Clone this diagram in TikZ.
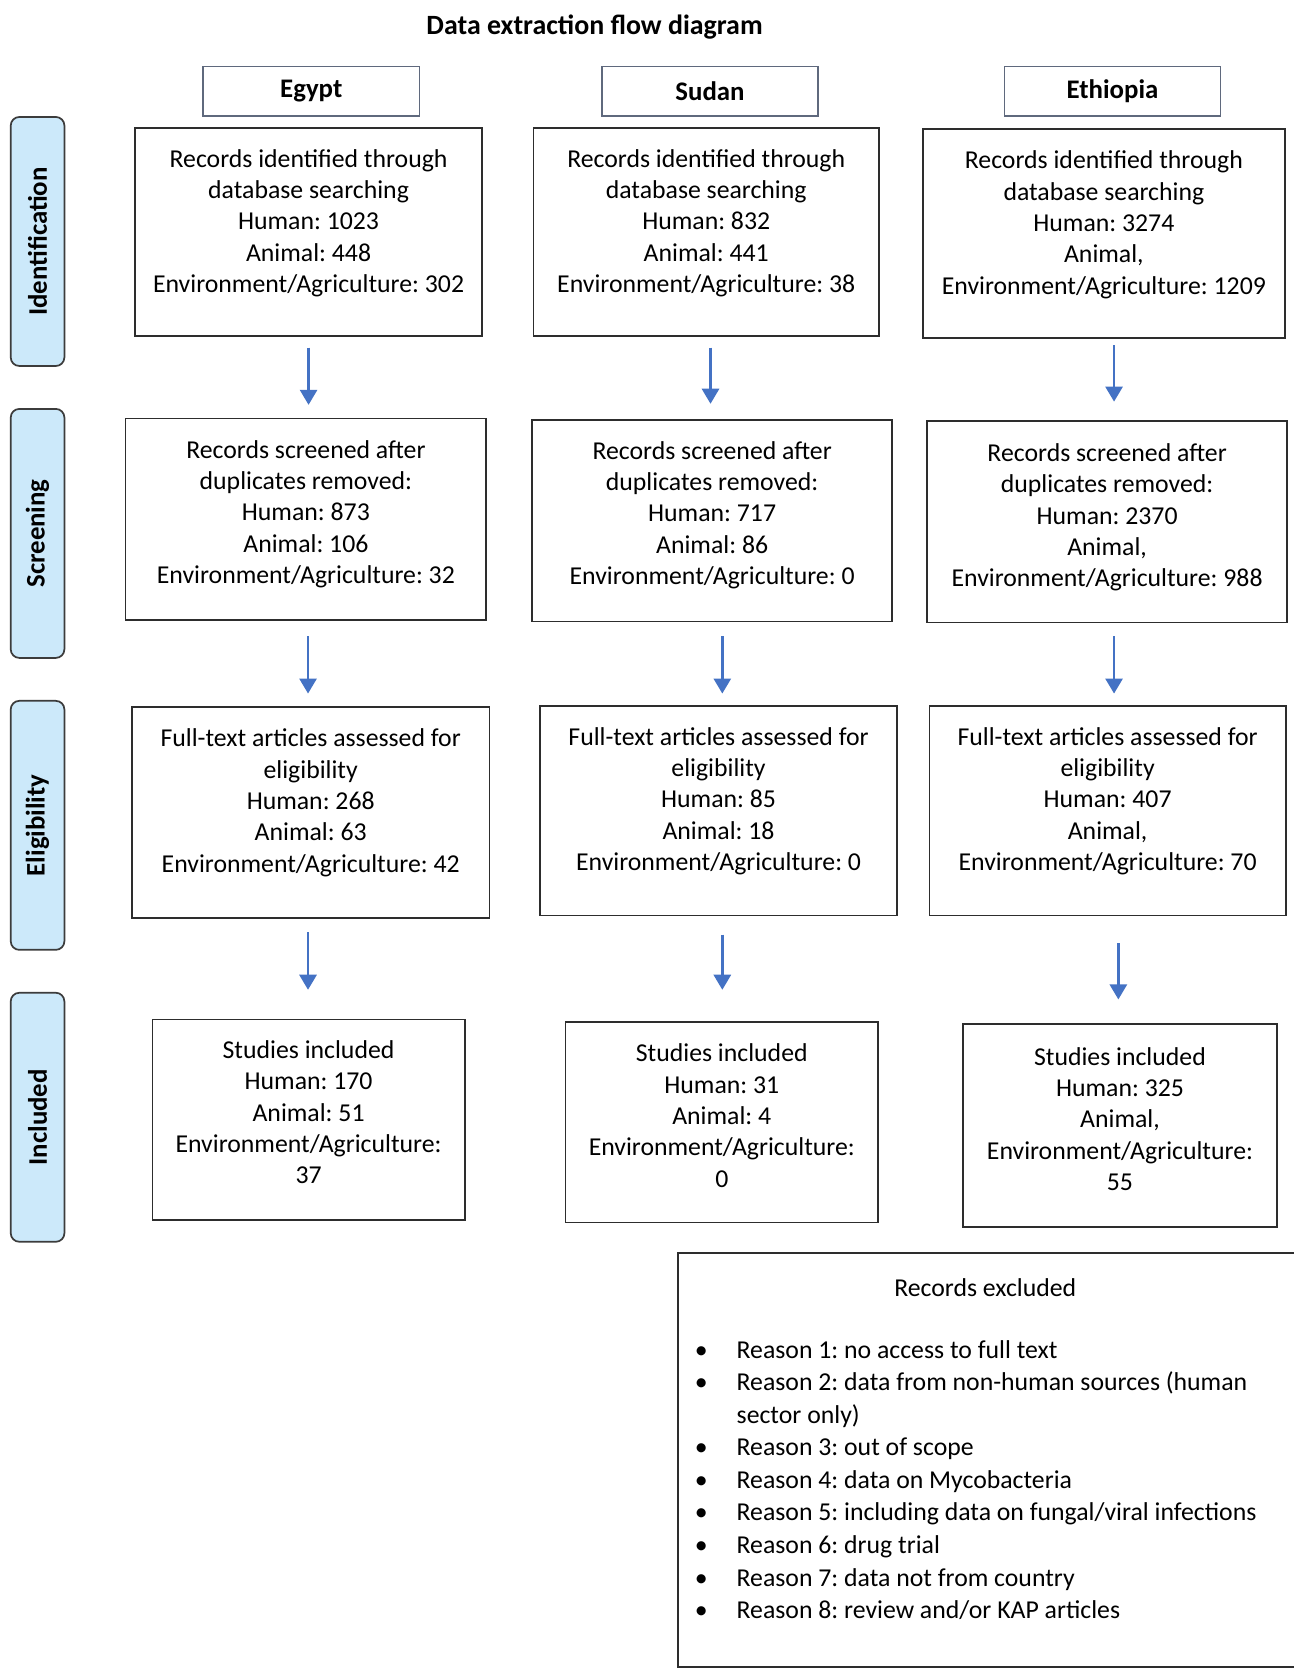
\documentclass[tikz,border=0pt]{standalone}
\usepackage{fontspec}
\setmainfont{Carlito}
\frenchspacing
\usetikzlibrary{arrows.meta,calc}
\definecolor{arrowblue}{RGB}{68,114,196}
\definecolor{sidefill}{RGB}{204,233,250}
\definecolor{sideline}{RGB}{60,60,60}
\definecolor{headline}{RGB}{95,105,125}
\definecolor{boxline}{RGB}{45,45,45}
% style, name, x1, y1, x2, y2
\newcommand\mkbox[6]{%
  \node[#1, minimum width={(#5-#3)*0.5pt}, minimum height={(#6-#4)*0.5pt}] (#2) at ({(#3+#5)/2},{(#4+#6)/2}) {};}
\begin{document}
\begin{tikzpicture}[x=0.5pt,y=-0.5pt,
  box/.style={draw=boxline, line width=0.8pt, inner sep=0pt},
  headbox/.style={draw=headline, line width=0.7pt, inner sep=0pt},
  sidebox/.style={draw=sideline, fill=sidefill, line width=0.8pt, rounded corners=4pt, inner sep=0pt},
  txt/.style={align=center, font=\fontsize{12}{14.6}\selectfont, inner sep=0pt},
  boldtxt/.style={font=\fontsize{12.5}{15}\selectfont\bfseries, inner sep=0pt},
  sidetxt/.style={font=\fontsize{12.5}{15}\selectfont\bfseries, inner sep=0pt, rotate=90},
  arr/.style={draw=arrowblue, line width=1.1pt, -{Triangle[width=8pt,length=7pt]}}]
\fill[white] (0,0) rectangle (1210,1556);
\useasboundingbox (0,0) rectangle (1210,1556);

% title
\node[boldtxt, font=\fontsize{13}{15}\selectfont\bfseries] (title) at (554,25) {Data extraction flow diagram};

% headers
\mkbox{headbox}{hE}{189}{62}{391}{108}
\mkbox{headbox}{hS}{561}{62}{762}{108}
\mkbox{headbox}{hT}{936}{62}{1137}{108}
\node[boldtxt] (hEt) at (hE.center) {Egypt};
\node[boldtxt] (hSt) at (hS.center) {Sudan};
\node[boldtxt] (hTt) at (hT.center) {Ethiopia};

% side labels
\mkbox{sidebox}{l1}{10}{109}{60}{341}
\mkbox{sidebox}{l2}{10}{381}{60}{613}
\mkbox{sidebox}{l3}{10}{653}{60}{885}
\mkbox{sidebox}{l4}{10}{925}{60}{1157}
\node[sidetxt] (l1t) at (l1.center) {Identification};
\node[sidetxt] (l2t) at (l2.center) {Screening};
\node[sidetxt] (l3t) at (l3.center) {Eligibility};
\node[sidetxt] (l4t) at (l4.center) {Included};

% row 1
\mkbox{box}{e1}{126}{119}{449}{313}
\mkbox{box}{s1}{497}{119}{819}{313}
\mkbox{box}{t1}{860}{120}{1197}{315}
\node[txt] (e1t) at ($(e1.center)+(0,-8)$) {Records identified through\\database searching\\Human: 1023\\Animal: 448\\Environment/Agriculture: 302};
\node[txt] (s1t) at ($(s1.center)+(0,-8)$) {Records identified through\\database searching\\Human: 832\\Animal: 441\\Environment/Agriculture: 38};
\node[txt] (t1t) at ($(t1.center)+(0,-8)$) {Records identified through\\database searching\\Human: 3274\\Animal,\\Environment/Agriculture: 1209};

% row 2
\mkbox{box}{e2}{117}{390}{453}{578}
\mkbox{box}{s2}{496}{391}{831}{579}
\mkbox{box}{t2}{864}{392}{1199}{580}
\node[txt] (e2t) at ($(e2.center)+(0,-5)$) {Records screened after\\duplicates removed:\\Human: 873\\Animal: 106\\Environment/Agriculture: 32};
\node[txt] (s2t) at ($(s2.center)+(0,-5)$) {Records screened after\\duplicates removed:\\Human: 717\\Animal: 86\\Environment/Agriculture: 0};
\node[txt] (t2t) at ($(t2.center)+(0,-4)$) {Records screened after\\duplicates removed:\\Human: 2370\\Animal,\\Environment/Agriculture: 988};

% row 3
\mkbox{box}{e3}{123}{659}{456}{855}
\mkbox{box}{s3}{503}{658}{836}{853}
\mkbox{box}{t3}{866}{658}{1198}{853}
\node[txt] (e3t) at ($(e3.center)+(0,-9)$) {Full-text articles assessed for\\eligibility\\Human: 268\\Animal: 63\\Environment/Agriculture: 42};
\node[txt] (s3t) at ($(s3.center)+(0,-9)$) {Full-text articles assessed for\\eligibility\\Human: 85\\Animal: 18\\Environment/Agriculture: 0};
\node[txt] (t3t) at ($(t3.center)+(0,-9)$) {Full-text articles assessed for\\eligibility\\Human: 407\\Animal,\\Environment/Agriculture: 70};

% row 4
\mkbox{box}{e4}{142}{950}{433}{1137}
\mkbox{box}{s4}{527}{952}{818}{1139}
\mkbox{box}{t4}{897}{954}{1190}{1143}
\node[txt] (e4t) at ($(e4.center)+(0,-7)$) {Studies included\\Human: 170\\Animal: 51\\Environment/Agriculture:\\37};
\node[txt] (s4t) at ($(s4.center)+(0,-6)$) {Studies included\\Human: 31\\Animal: 4\\Environment/Agriculture:\\0};
\node[txt] (t4t) at ($(t4.center)+(0,-6)$) {Studies included\\Human: 325\\Animal,\\Environment/Agriculture:\\55};

% arrows
\draw[arr] ($(e1.south)+(0,10)$) -- ($(e2.north)+(2.5,-12)$);
\draw[arr] ($(e2.south)+(2,14)$) -- ($(e3.north)+(-2.5,-12)$);
\draw[arr] ($(e3.south)+(-2.5,13)$) -- ($(e4.north)+(-0.5,-27)$);
\draw[arr] ($(s1.south)+(4,10)$) -- ($(s2.north)+(-1.5,-14)$);
\draw[arr] ($(s2.south)+(9.5,13)$) -- ($(s3.north)+(3.5,-11)$);
\draw[arr] ($(s3.south)+(3.5,17)$) -- ($(s4.north)+(0.5,-29)$);
\draw[arr] ($(t1.south)+(9.5,6)$) -- ($(t2.north)+(6.5,-17)$);
\draw[arr] ($(t2.south)+(6.5,12)$) -- ($(t3.north)+(6,-11)$);
\draw[arr] ($(t3.south)+(10,25)$) -- ($(t4.north)+(-1.5,-22)$);

% excluded box (open on the right)
\node[inner sep=0pt, minimum width={(1205-632)*0.5pt}, minimum height={(1553-1168)*0.5pt}] (exc) at ({(632+1205)/2},{(1168+1553)/2}) {};
\draw[boxline, line width=0.8pt] (exc.north east) -- (exc.north west) -- (exc.south west) -- (exc.south east);
\node[txt] (exct) at (918,1200) {Records excluded};
\node[inner sep=0pt, anchor=west, align=left, font=\fontsize{12}{15.15}\selectfont] (excl) at (686,1379) {%
\makebox[0pt][r]{\textbullet\hspace{13.5pt}}Reason 1: no access to full text\\
\makebox[0pt][r]{\textbullet\hspace{13.5pt}}Reason 2: data from non-human sources (human\\
sector only)\\
\makebox[0pt][r]{\textbullet\hspace{13.5pt}}Reason 3: out of scope\\
\makebox[0pt][r]{\textbullet\hspace{13.5pt}}Reason 4: data on Mycobacteria\\
\makebox[0pt][r]{\textbullet\hspace{13.5pt}}Reason 5: including data on fungal/viral infections\\
\makebox[0pt][r]{\textbullet\hspace{13.5pt}}Reason 6: drug trial\\
\makebox[0pt][r]{\textbullet\hspace{13.5pt}}Reason 7: data not from country\\
\makebox[0pt][r]{\textbullet\hspace{13.5pt}}Reason 8: review and/or KAP articles};
\end{tikzpicture}
\end{document}
